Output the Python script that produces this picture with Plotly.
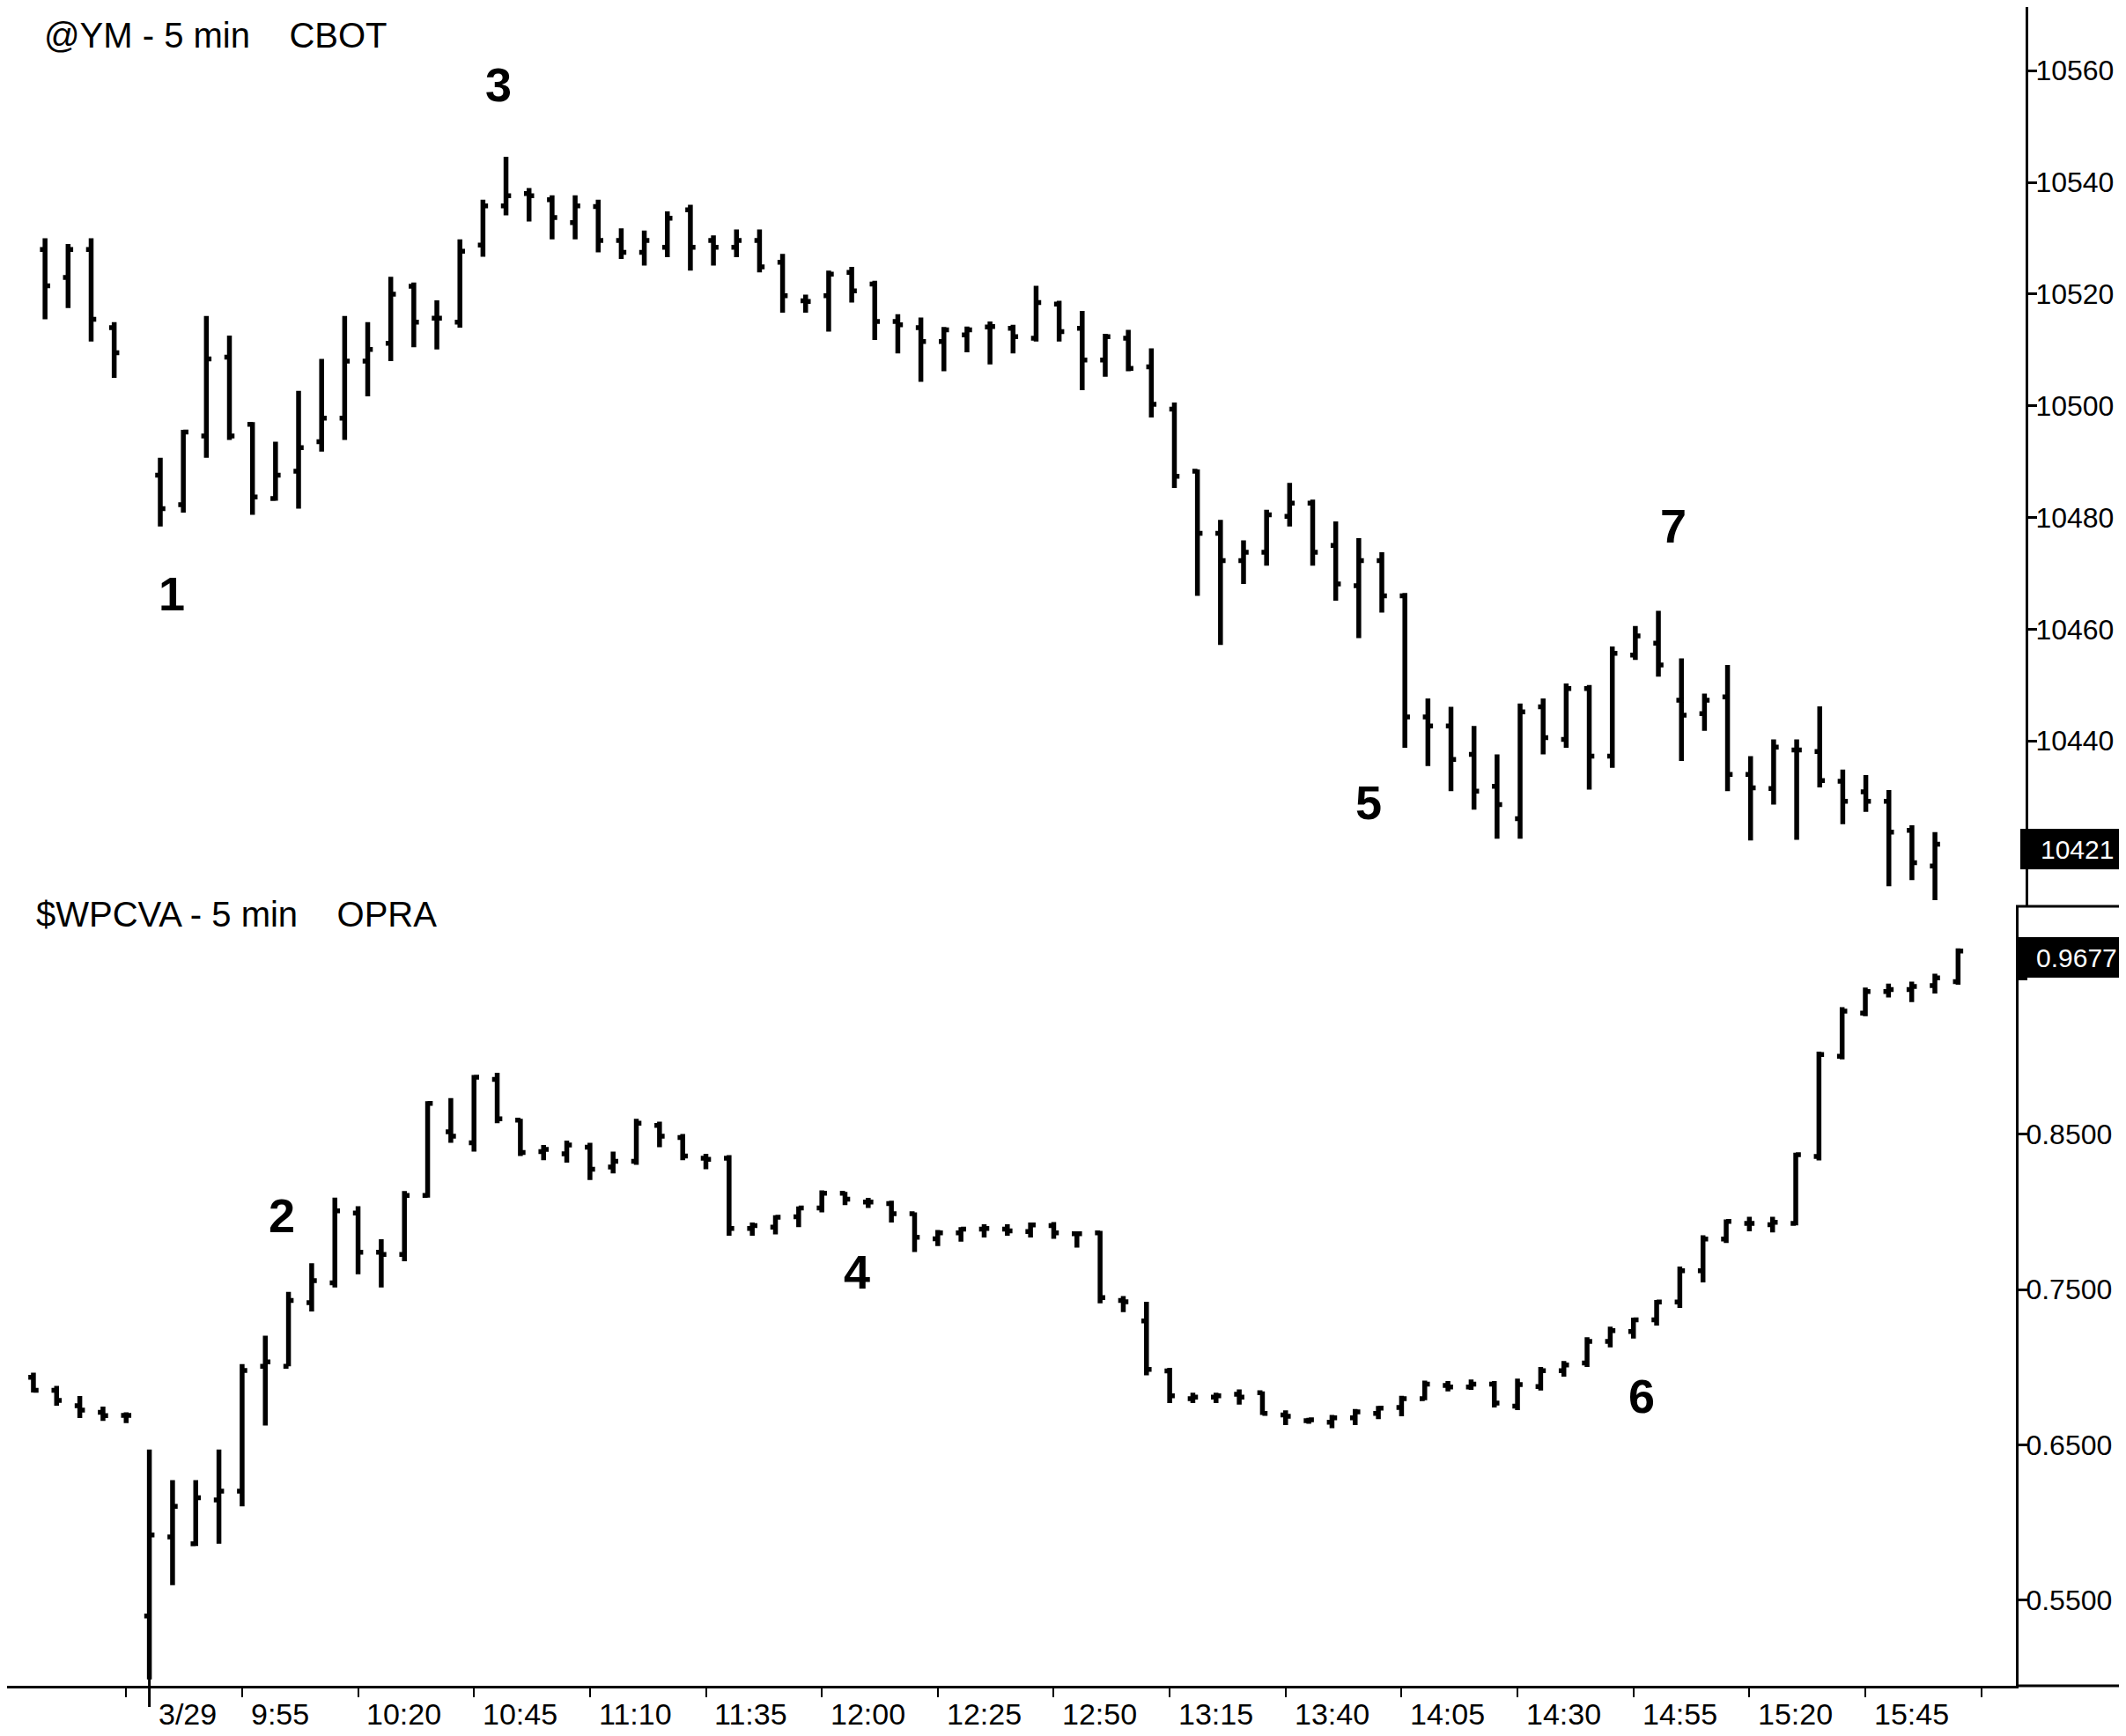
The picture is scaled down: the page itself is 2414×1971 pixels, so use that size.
import plotly.graph_objects as go

W, H = 2414, 1971
FONT = "Liberation Sans, Arial, sans-serif"

# ---------------- @YM 5 min (top panel) ----------------
# bar slots: 4 bars of the prior session, then 3/29 session bars (slot 0 = first bar)
ym_slot = [-5, -4, -3, -2] + list(range(78))
ym_open = [10528, 10523, 10528, 10514,
           10487.6, 10482.3, 10494.6, 10508.7, 10496.7, 10483.4, 10488.3, 10493.6, 10497.8, 10508.0,
           10511.2, 10521.4, 10515.7, 10515.0, 10528.8, 10535.8, 10538.0, 10536.9, 10532.8, 10535.7,
           10529.6, 10527.5, 10528.4, 10535.1, 10529.6, 10528.4, 10529.6, 10525.7, 10518.8, 10519.7,
           10523.9, 10521.8, 10515.1, 10514.0, 10511.5, 10512.7, 10514.1, 10513.9, 10512.1, 10518.2,
           10513.9, 10508.2, 10512.1, 10507.0, 10499.4, 10488.3, 10477.2, 10472.3, 10473.8, 10480.2,
           10482.6, 10475.0, 10467.8, 10472.3, 10466.0, 10444.3, 10442.7, 10437.6, 10431.9, 10426.1,
           10446.1, 10440.3, 10449.4, 10437.3, 10455.4, 10457.5, 10447.3, 10444.9, 10447.9, 10434.0,
           10431.5, 10438.4, 10438.1, 10432.8, 10430.9, 10429.2, 10424.0, 10417.6]
ym_high = [10530, 10529, 10530, 10515,
           10490.7, 10495.7, 10516.1, 10512.6, 10497.1, 10493.6, 10502.7, 10508.4, 10516.1, 10515.0,
           10523.1, 10522.1, 10518.9, 10529.8, 10536.9, 10544.6, 10539.0, 10537.7, 10537.7, 10536.9,
           10531.8, 10531.4, 10534.8, 10536.0, 10530.5, 10531.6, 10531.6, 10527.2, 10519.9, 10524.2,
           10524.9, 10522.4, 10516.4, 10515.8, 10514.1, 10514.2, 10515.1, 10514.5, 10521.5, 10518.8,
           10517.0, 10512.9, 10513.6, 10510.3, 10500.6, 10488.6, 10479.6, 10475.9, 10481.4, 10486.2,
           10483.2, 10479.3, 10476.3, 10473.8, 10466.5, 10447.6, 10446.1, 10442.7, 10437.6, 10446.7,
           10447.6, 10450.3, 10450.0, 10456.9, 10460.6, 10463.3, 10454.8, 10448.5, 10453.6, 10437.3,
           10440.3, 10440.3, 10446.2, 10434.9, 10433.9, 10431.2, 10424.9, 10423.7]
ym_low = [10515.5, 10517.5, 10511.5, 10505,
          10478.4, 10480.9, 10490.7, 10493.9, 10480.5, 10483.0, 10481.6, 10491.8, 10493.9, 10501.7,
          10508.0, 10510.5, 10510.1, 10514.0, 10526.7, 10534.1, 10533.0, 10529.8, 10529.8, 10527.5,
          10526.3, 10525.1, 10526.6, 10524.2, 10525.1, 10526.6, 10523.9, 10516.7, 10516.7, 10513.3,
          10518.5, 10511.8, 10509.4, 10504.3, 10506.2, 10509.6, 10507.4, 10509.4, 10511.5, 10511.5,
          10502.8, 10505.2, 10506.2, 10497.9, 10485.3, 10466.0, 10457.2, 10468.1, 10471.4, 10478.4,
          10471.4, 10465.1, 10458.4, 10463.0, 10438.8, 10435.5, 10431.0, 10427.7, 10422.5, 10422.5,
          10437.6, 10438.8, 10431.3, 10435.2, 10454.5, 10451.5, 10436.4, 10441.8, 10431.0, 10422.2,
          10428.6, 10422.3, 10431.7, 10425.1, 10427.3, 10414.0, 10415.1, 10411.5]
ym_close = [10521.5, 10528, 10515.5, 10509.5,
            10481.6, 10495.3, 10508.4, 10494.6, 10483.7, 10487.6, 10492.5, 10497.8, 10508.0, 10510.1,
            10520.0, 10515.0, 10515.7, 10527.7, 10535.8, 10537.6, 10537.6, 10533.7, 10535.8, 10529.6,
            10527.5, 10529.6, 10533.6, 10528.4, 10528.4, 10529.6, 10524.9, 10519.7, 10518.7, 10523.6,
            10520.6, 10515.1, 10514.5, 10511.5, 10513.6, 10513.6, 10514.2, 10512.4, 10518.5, 10513.3,
            10508.2, 10512.4, 10506.7, 10500.3, 10487.4, 10477.2, 10472.3, 10473.8, 10480.5, 10482.6,
            10473.8, 10468.1, 10472.3, 10466.0, 10444.3, 10442.7, 10436.7, 10431.0, 10428.6, 10445.2,
            10440.6, 10449.4, 10437.3, 10455.7, 10458.8, 10453.6, 10444.6, 10447.3, 10434.0, 10431.6,
            10438.9, 10438.4, 10432.9, 10429.2, 10429.2, 10423.7, 10418.2, 10421.5]

# ---------------- $WPCVA 5 min (bottom panel) ----------------
pc_slot = [-5, -4, -3, -2, -1] + list(range(79))
pc_open = [0.6935, 0.6851, 0.6752, 0.6710, 0.6690,
           0.5399, 0.5908, 0.5864, 0.6146, 0.6203, 0.7006, 0.7006, 0.7415, 0.7542, 0.7992,
           0.7739, 0.7725, 0.8105, 0.8514, 0.8443, 0.8852, 0.8590, 0.8387, 0.8373, 0.8415,
           0.8288, 0.8325, 0.8556, 0.8477, 0.8345, 0.8345, 0.7892, 0.7901, 0.7968, 0.8024,
           0.8119, 0.8062, 0.8052, 0.7987, 0.7826, 0.7864, 0.7888, 0.7888, 0.7873, 0.7911,
           0.7858, 0.7864, 0.7429, 0.7297, 0.6976, 0.6797, 0.6807, 0.6825, 0.6835, 0.6693,
           0.6655, 0.6646, 0.6674, 0.6703, 0.6740, 0.6797, 0.6882, 0.6873, 0.6891, 0.6749,
           0.6875, 0.6977, 0.7027, 0.7166, 0.7229, 0.7305, 0.7419, 0.7621, 0.7824, 0.7925,
           0.7917, 0.7925, 0.8355, 0.9000, 0.9278, 0.9417, 0.9430, 0.9455, 0.9480]
pc_high = [0.6964, 0.6879, 0.6814, 0.6746, 0.6710,
           0.6470, 0.6273, 0.6273, 0.6470, 0.7020, 0.7203, 0.7485, 0.7668, 0.8091, 0.8035,
           0.7823, 0.8133, 0.8711, 0.8731, 0.8880, 0.8894, 0.8598, 0.8429, 0.8457, 0.8443,
           0.8387, 0.8598, 0.8579, 0.8500, 0.8373, 0.8364, 0.7930, 0.7977, 0.8034, 0.8137,
           0.8128, 0.8090, 0.8071, 0.7996, 0.7883, 0.7901, 0.7920, 0.7920, 0.7930, 0.7934,
           0.7873, 0.7877, 0.7458, 0.7420, 0.6995, 0.6835, 0.6835, 0.6857, 0.6844, 0.6722,
           0.6674, 0.6693, 0.6731, 0.6750, 0.6816, 0.6914, 0.6910, 0.6920, 0.6910, 0.6926,
           0.7002, 0.7040, 0.7192, 0.7260, 0.7318, 0.7432, 0.7647, 0.7849, 0.7950, 0.7968,
           0.7968, 0.8380, 0.9030, 0.9316, 0.9442, 0.9468, 0.9480, 0.9531, 0.9695]
pc_low = [0.6837, 0.6752, 0.6673, 0.6654, 0.6640,
          0.4991, 0.5597, 0.5850, 0.5864, 0.6104, 0.6625, 0.7006, 0.7358, 0.7513, 0.7598,
          0.7513, 0.7682, 0.8091, 0.8443, 0.8387, 0.8570, 0.8359, 0.8331, 0.8316, 0.8204,
          0.8246, 0.8302, 0.8415, 0.8331, 0.8274, 0.7845, 0.7845, 0.7854, 0.7901, 0.7996,
          0.8043, 0.8024, 0.7930, 0.7741, 0.7779, 0.7807, 0.7835, 0.7845, 0.7835, 0.7826,
          0.7769, 0.7411, 0.7354, 0.6948, 0.6769, 0.6769, 0.6769, 0.6759, 0.6693, 0.6627,
          0.6636, 0.6608, 0.6627, 0.6665, 0.6684, 0.6788, 0.6844, 0.6854, 0.6740, 0.6724,
          0.6850, 0.6939, 0.7002, 0.7128, 0.7184, 0.7267, 0.7381, 0.7546, 0.7799, 0.7874,
          0.7867, 0.7912, 0.8330, 0.8980, 0.9258, 0.9379, 0.9349, 0.9404, 0.9460]
pc_close = [0.6851, 0.6786, 0.6724, 0.6688, 0.6690,
            0.5921, 0.6104, 0.6160, 0.6203, 0.6978, 0.7034, 0.7429, 0.7556, 0.8006, 0.7739,
            0.7725, 0.8105, 0.8697, 0.8486, 0.8866, 0.8598, 0.8381, 0.8401, 0.8429, 0.8274,
            0.8325, 0.8570, 0.8486, 0.8359, 0.8337, 0.7892, 0.7911, 0.7964, 0.8024, 0.8119,
            0.8081, 0.8062, 0.7987, 0.7836, 0.7864, 0.7888, 0.7892, 0.7877, 0.7915, 0.7864,
            0.7858, 0.7448, 0.7420, 0.6986, 0.6816, 0.6807, 0.6816, 0.6807, 0.6703, 0.6684,
            0.6661, 0.6674, 0.6712, 0.6736, 0.6797, 0.6891, 0.6873, 0.6891, 0.6769, 0.6888,
            0.6977, 0.7014, 0.7166, 0.7235, 0.7305, 0.7419, 0.7621, 0.7824, 0.7938, 0.7925,
            0.7932, 0.8367, 0.9012, 0.9291, 0.9417, 0.9430, 0.9450, 0.9505, 0.9677]

# ---------------- axis labels ----------------
time_labels = ["3/29", "9:55", "10:20", "10:45", "11:10", "11:35", "12:00", "12:25",
               "12:50", "13:15", "13:40", "14:05", "14:30", "14:55", "15:20", "15:45"]
time_slots = [0, 4, 9, 14, 19, 24, 29, 34, 39, 44, 49, 54, 59, 64, 69, 74]
minor_tick_slots = [-1, 4, 9, 14, 19, 24, 29, 34, 39, 44, 49, 54, 59, 64, 69, 74, 79]
ym_ticks = [10440, 10460, 10480, 10500, 10520, 10540, 10560]
pc_ticks = [0.55, 0.65, 0.75, 0.85, 0.95]
pc_ticktext = ["0.5500", "0.6500", "0.7500", "0.8500", ""]   # 0.9500 sits under the last-value box
ym_last_label = "10421"
pc_last_label = "0.9677"
marks = [("1", 187, 666), ("3", 558, 88), ("5", 1546, 903), ("7", 1892, 589),
         ("2", 312, 1372), ("4", 965, 1436), ("6", 1856, 1577)]

# ---------------- geometry (pixels in the 2414x1971 page) ----------------
AX_TOP_X = 2292      # top panel price axis
AX_BOT_X = 2281      # bottom panel price axis
SPLIT_Y = 1021       # boundary between the panels
XAXIS_Y = 1906       # time axis line

def py(y):  # pixel y -> paper y
    return 1 - y / H

def px(x):
    return x / W

fig = go.Figure()
bar_style = dict(line=dict(color="black", width=5.5))
fig.add_trace(go.Ohlc(x=ym_slot, open=ym_open, high=ym_high, low=ym_low, close=ym_close,
                      xaxis="x2", yaxis="y2", increasing=bar_style, decreasing=bar_style,
                      tickwidth=0.22, showlegend=False, hoverinfo="skip"))
fig.add_trace(go.Ohlc(x=pc_slot, open=pc_open, high=pc_high, low=pc_low, close=pc_close,
                      xaxis="x", yaxis="y", increasing=bar_style, decreasing=bar_style,
                      tickwidth=0.22, showlegend=False, hoverinfo="skip"))

# slot -> pixel mappings
bot_x0, bot_dx = 161.6, 26.33
top_x0, top_dx = 174.0, 26.17
bot_r0 = -bot_x0 / bot_dx
top_r0 = -top_x0 / top_dx

tick_font = dict(family=FONT, size=32, color="black")
fig.update_layout(
    width=W, height=H, margin=dict(l=0, r=0, t=0, b=0),
    paper_bgcolor="white", plot_bgcolor="white", showlegend=False,
    xaxis=dict(domain=[0, px(AX_BOT_X)], range=[bot_r0, bot_r0 + AX_BOT_X / bot_dx],
               anchor="y", showline=True, linecolor="black", linewidth=3,
               ticks="outside", tickvals=minor_tick_slots, ticklen=10, tickwidth=2,
               tickcolor="black", showticklabels=False, showgrid=False, zeroline=False,
               rangeslider=dict(visible=False), automargin=False),
    xaxis2=dict(domain=[0, px(AX_TOP_X)], range=[top_r0, top_r0 + AX_TOP_X / top_dx],
                anchor="y2", showline=False, ticks="", showticklabels=False,
                showgrid=False, zeroline=False, rangeslider=dict(visible=False),
                automargin=False),
    yaxis=dict(domain=[py(XAXIS_Y), py(SPLIT_Y)], range=[0.4950, 0.9965], anchor="x",
               side="right", showline=True, linecolor="black", linewidth=3,
               ticks="outside", ticklen=10, tickwidth=2.5, tickcolor="black",
               tickvals=pc_ticks, ticktext=pc_ticktext, ticklabelstandoff=-8,
               tickfont=tick_font, showgrid=False, zeroline=False, automargin=False),
    yaxis2=dict(domain=[py(SPLIT_Y), 1], range=[10410.4, 10571.4], anchor="x2",
                side="right", showline=True, linecolor="black", linewidth=3,
                ticks="outside", ticklen=10, tickwidth=2.5, tickcolor="black",
                tickvals=ym_ticks, ticktext=[str(v) for v in ym_ticks], ticklabelstandoff=-8,
                tickfont=tick_font, showgrid=False, zeroline=False, automargin=False),
)

shapes = [
    # divider between the two price scales
    dict(type="line", xref="paper", yref="paper", x0=px(AX_BOT_X), x1=1,
         y0=py(SPLIT_Y), y1=py(SPLIT_Y), line=dict(color="black", width=3)),
    # time axis continues under the price scale
    dict(type="line", xref="paper", yref="paper", x0=px(AX_BOT_X), x1=1,
         y0=py(XAXIS_Y), y1=py(XAXIS_Y), line=dict(color="black", width=3)),
    # session separator tick
    dict(type="line", xref="x", yref="paper", x0=0, x1=0,
         y0=py(1862), y1=py(1930), line=dict(color="black", width=3)),
    # last-value boxes
    dict(type="rect", xref="paper", yref="paper", x0=px(AX_TOP_X - 6), x1=1,
         y0=py(979), y1=py(933), fillcolor="black", line=dict(width=0), layer="above"),
    dict(type="rect", xref="paper", yref="paper", x0=px(AX_BOT_X + 2), x1=1,
         y0=py(1102), y1=py(1056), fillcolor="black", line=dict(width=0), layer="above"),
]
fig.update_layout(shapes=shapes)

ann = []
nb = "\u00a0"
ann.append(dict(text=f"@YM - 5 min{nb*4}CBOT", xref="paper", yref="paper",
                x=px(40), y=py(32), xanchor="left", yanchor="middle", showarrow=False,
                font=dict(family=FONT, size=40, color="black")))
ann.append(dict(text=f"$WPCVA - 5 min{nb*4}OPRA", xref="paper", yref="paper",
                x=px(31), y=py(1030), xanchor="left", yanchor="middle", showarrow=False,
                font=dict(family=FONT, size=40, color="black")))
for t, x, y in marks:
    ann.append(dict(text=f"<b>{t}</b>", xref="paper", yref="paper", x=px(x), y=py(y),
                    xanchor="center", yanchor="middle", showarrow=False,
                    font=dict(family=FONT, size=54, color="black")))
for lab, s in zip(time_labels, time_slots):
    ann.append(dict(text=lab, xref="x", yref="paper", x=s + 0.3, y=py(1938),
                    xanchor="left", yanchor="middle", showarrow=False,
                    font=dict(family=FONT, size=34, color="black")))
ann.append(dict(text=ym_last_label, xref="paper", yref="paper", x=px(2350), y=py(956),
                xanchor="center", yanchor="middle", showarrow=False,
                font=dict(family=FONT, size=30, color="white")))
ann.append(dict(text=pc_last_label, xref="paper", yref="paper", x=px(2350), y=py(1079),
                xanchor="center", yanchor="middle", showarrow=False,
                font=dict(family=FONT, size=30, color="white")))
fig.update_layout(annotations=ann)

fig.write_html("out.html")
